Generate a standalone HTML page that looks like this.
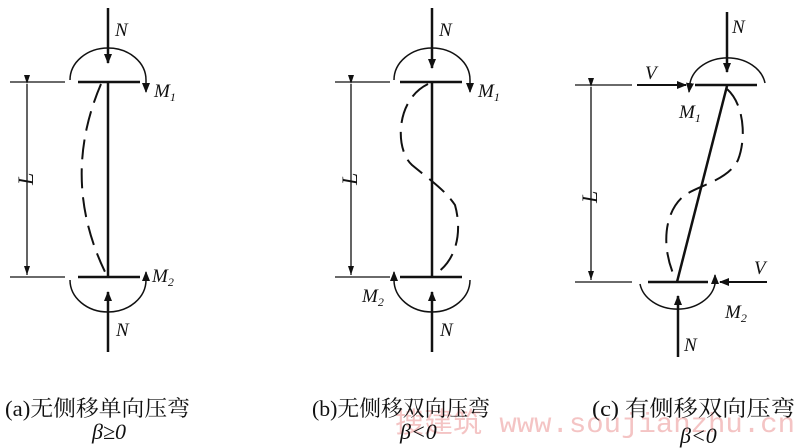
<!DOCTYPE html>
<html><head><meta charset="utf-8"><style>
html,body{margin:0;padding:0;background:#fff;}
svg{display:block;}
text{font-family:"Liberation Serif","Noto Serif CJK SC",serif;fill:#111;}
</style></head><body>
<svg width="800" height="448" viewBox="0 0 800 448" xmlns="http://www.w3.org/2000/svg">
<defs>
<marker id="ah" markerWidth="10" markerHeight="8" refX="9" refY="4" orient="auto" markerUnits="userSpaceOnUse"><path d="M0,0 L10,4 L0,8 z" fill="#111"/></marker>
<marker id="as" markerWidth="9" markerHeight="6" refX="9" refY="3" orient="auto" markerUnits="userSpaceOnUse"><path d="M0,0 L9,3 L0,6 z" fill="#111"/></marker>
</defs>
<text x="395" y="432" font-size="28" textLength="400" lengthAdjust="spacingAndGlyphs" style="fill:#f4c4c4;font-family:'Liberation Mono','Noto Sans CJK SC',monospace">搜建筑 www.soujianzhu.cn</text>
<g stroke="#111" fill="none">
<!-- Panel A -->
<line x1="10" y1="82" x2="65" y2="82" stroke-width="1.3"/>
<line x1="10" y1="277" x2="65" y2="277" stroke-width="1.3"/>
<line x1="78" y1="82" x2="140" y2="82" stroke-width="2.5"/>
<line x1="78" y1="277" x2="140" y2="277" stroke-width="2.5"/>
<line x1="108" y1="82" x2="108" y2="277" stroke-width="2.5"/>
<line x1="108" y1="8" x2="108" y2="63" stroke-width="2.5" marker-end="url(#ah)"/>
<line x1="108" y1="352" x2="108" y2="292" stroke-width="2.5" marker-end="url(#ah)"/>
<path d="M70,80 A38,32 0 0 1 146,80 L146,92" stroke-width="1.5" marker-end="url(#ah)"/>
<path d="M70,280 A38,32 0 0 0 146,280 L146,272" stroke-width="1.5" marker-end="url(#ah)"/>
<line x1="27" y1="84" x2="27" y2="275" stroke-width="1.3" marker-start="url(#as)" marker-end="url(#as)"/>
<path d="M101,84 Q60,180 106,274" stroke-width="2" stroke-dasharray="20,9"/>
<!-- Panel B -->
<line x1="335" y1="82" x2="390" y2="82" stroke-width="1.3"/>
<line x1="335" y1="277" x2="390" y2="277" stroke-width="1.3"/>
<line x1="400" y1="82" x2="462" y2="82" stroke-width="2.5"/>
<line x1="400" y1="277" x2="462" y2="277" stroke-width="2.5"/>
<line x1="432" y1="82" x2="432" y2="277" stroke-width="2.5"/>
<line x1="432" y1="8" x2="432" y2="68" stroke-width="2.5" marker-end="url(#ah)"/>
<line x1="432" y1="352" x2="432" y2="292" stroke-width="2.5" marker-end="url(#ah)"/>
<path d="M394,80 A38,32 0 0 1 470,80 L470,92" stroke-width="1.5" marker-end="url(#ah)"/>
<path d="M470,280 A38,32 0 0 1 394,280 L394,272" stroke-width="1.5" marker-end="url(#ah)"/>
<line x1="351" y1="84" x2="351" y2="275" stroke-width="1.3" marker-start="url(#as)" marker-end="url(#as)"/>
<path d="M428,84 C395,100 395,150 412,165 C430,180 445,190 455,205 C462,230 458,260 434,275" stroke-width="2" stroke-dasharray="20,9"/>
<!-- Panel C -->
<line x1="575" y1="85" x2="632" y2="85" stroke-width="1.3"/>
<line x1="637" y1="85" x2="686" y2="85" stroke-width="2" marker-end="url(#ah)"/>
<line x1="575" y1="282" x2="632" y2="282" stroke-width="1.3"/>
<line x1="695" y1="85" x2="757" y2="85" stroke-width="2.5"/>
<line x1="648" y1="282" x2="708" y2="282" stroke-width="2.5"/>
<line x1="727" y1="86" x2="677" y2="282" stroke-width="2.5"/>
<line x1="727" y1="12" x2="727" y2="72" stroke-width="2.5" marker-end="url(#ah)"/>
<line x1="678" y1="357" x2="678" y2="296" stroke-width="2.5" marker-end="url(#ah)"/>
<path d="M765,83 A38,30 0 0 0 690,83 L689,92" stroke-width="1.5" marker-end="url(#ah)"/>
<path d="M640,284 A38,30 0 0 0 715,284 L715,275" stroke-width="1.5" marker-end="url(#ah)"/>
<line x1="767" y1="282" x2="720" y2="282" stroke-width="2" marker-end="url(#ah)"/>
<line x1="591" y1="87" x2="591" y2="280" stroke-width="1.3" marker-start="url(#as)" marker-end="url(#as)"/>
<path d="M727,89 C745,105 746,140 738,160 C728,180 700,185 685,195 C665,210 660,245 675,278" stroke-width="2" stroke-dasharray="20,9"/>
</g>
<g font-style="italic" font-size="19">
<text x="115" y="36">N</text>
<text x="116" y="336">N</text>
<text x="154" y="97">M<tspan font-size="12" dy="4">1</tspan></text>
<text x="152" y="282">M<tspan font-size="12" dy="4">2</tspan></text>
<text x="439" y="36">N</text>
<text x="440" y="336">N</text>
<text x="478" y="97">M<tspan font-size="12" dy="4">1</tspan></text>
<text x="362" y="302">M<tspan font-size="12" dy="4">2</tspan></text>
<text x="732" y="33">N</text>
<text x="684" y="351">N</text>
<text x="645" y="79">V</text>
<text x="754" y="274">V</text>
<text x="679" y="118">M<tspan font-size="12" dy="4">1</tspan></text>
<text x="725" y="318">M<tspan font-size="12" dy="4">2</tspan></text>
<text transform="translate(33,185) rotate(-90)" font-size="22">L</text>
<text transform="translate(357,185) rotate(-90)" font-size="22">L</text>
<text transform="translate(597,203) rotate(-90)" font-size="22">L</text>
</g>
<g font-size="22">
<text x="5" y="416" textLength="185" lengthAdjust="spacingAndGlyphs">(a)无侧移单向压弯</text>
<text x="312" y="416" textLength="178" lengthAdjust="spacingAndGlyphs">(b)无侧移双向压弯</text>
<text x="592" y="416" textLength="203" lengthAdjust="spacingAndGlyphs">(c) 有侧移双向压弯</text>
<text x="92" y="439" font-style="italic">β≥0</text>
<text x="400" y="439" font-style="italic">β&lt;0</text>
<text x="680" y="443" font-style="italic">β&lt;0</text>
</g>
</svg>
</body></html>
